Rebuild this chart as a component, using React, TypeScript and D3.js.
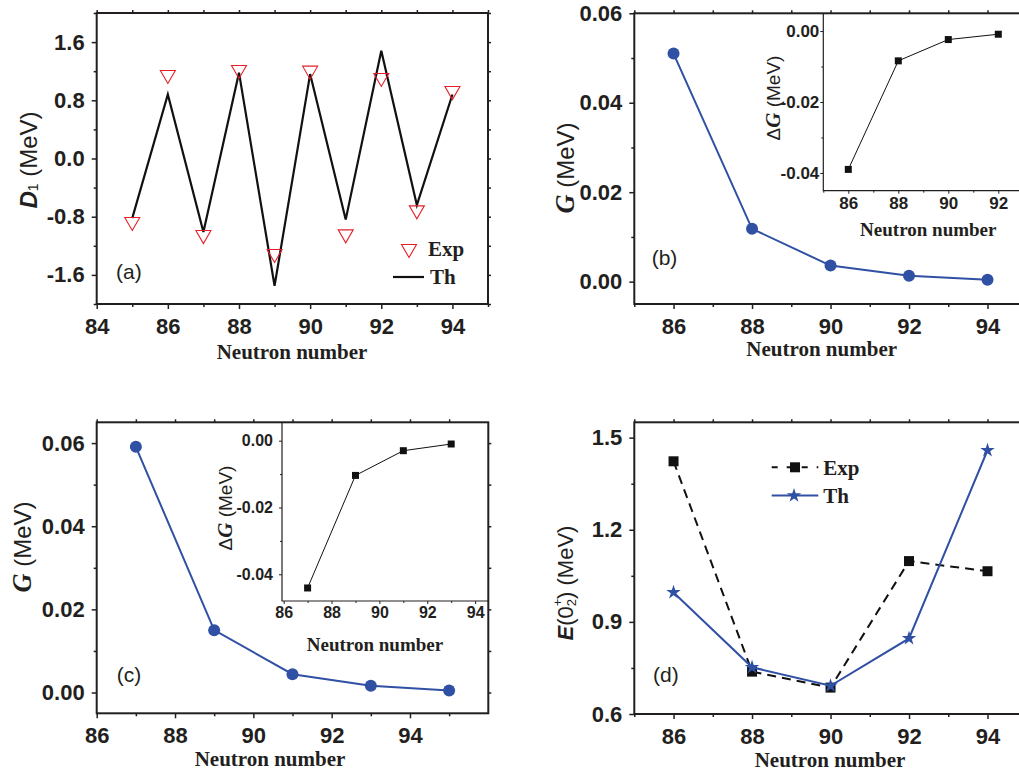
import React, { useEffect, useRef } from "react";
import * as d3 from "d3";

// ---------- data ----------
const nA = [85, 86, 87, 88, 89, 90, 91, 92, 93, 94];
const expA = [-0.9, 1.12, -1.08, 1.19, -1.34, 1.18, -1.07, 1.08, -0.74, 0.9];
const thA = [-0.82, 0.88, -1.01, 1.18, -1.75, 1.16, -0.84, 1.48, -0.64, 0.88];

const nB = [86, 88, 90, 92, 94];
const gB = [0.051, 0.0118, 0.0036, 0.0013, 0.0004];
const nBInset = [86, 88, 90, 92];
const dgB = [-0.039, -0.0084, -0.0024, -0.0009];

const nC = [87, 89, 91, 93, 95];
const gC = [0.0591, 0.015, 0.0044, 0.0016, 0.0005];
const nCInset = [87, 89, 91, 93];
const dgC = [-0.0441, -0.0104, -0.003, -0.001];

const nD = [86, 88, 90, 92, 94];
const expD = [1.423, 0.738, 0.686, 1.098, 1.065];
const thD = [0.996, 0.752, 0.692, 0.846, 1.459];

// ticks
const xMajorA = [84, 86, 88, 90, 92, 94];
const xMinorA = [85, 87, 89, 91, 93, 95];
const yMajorA = [-1.6, -0.8, 0, 0.8, 1.6];
const yMinorA = [-2.0, -1.2, -0.4, 0.4, 1.2, 2.0];
const xMajorBD = [86, 88, 90, 92, 94];
const xMinorBD = [85, 87, 89, 91, 93, 95];
const yMajorG = [0, 0.02, 0.04, 0.06];
const yMinorG = [0.01, 0.03, 0.05];
const xMajorC = [86, 88, 90, 92, 94];
const xMinorC = [87, 89, 91, 93, 95];
const xMajorBIn = [86, 88, 90, 92];
const xMinorBIn = [85, 87, 89, 91];
const xMajorCIn = [86, 88, 90, 92, 94];
const xMinorCIn = [87, 89, 91, 93];
const yMajorDG = [-0.04, -0.02, 0];
const yMinorDG = [-0.03, -0.01];
const yMajorD = [0.6, 0.9, 1.2, 1.5];
const yMinorD = [0.75, 1.05, 1.35];

const SANS = "'Liberation Sans', Arial, sans-serif";
const SERIF = "'Liberation Serif', 'Times New Roman', serif";
const BLUE = "#3050a4";
const RED = "#e5202a";
const INK = "#231f20";

const fmt = (p: number) => (v: number) => d3.format(`.${p}f`)(v).replace("−", "-");

type Opt = {
  xMajor: number[]; xMinor: number[]; yMajor: number[]; yMinor: number[];
  xFmt: (v: number) => string; yFmt: (v: number) => string;
  fs: number; frameW: number; major: number; minor: number;
  padX: number; padY: number; mirror: boolean; full: boolean; tickW: number;
};

function axes(g: any, x: any, y: any, o: Opt) {
  const [xl, xr] = x.range();
  const [yb, yt] = y.range();
  const style = (sel: any) => {
    sel.select(".domain").remove();
    sel.attr("font-family", SANS).attr("font-size", o.fs).attr("font-weight", "bold");
    sel.selectAll("line").attr("stroke", INK).attr("stroke-width", o.tickW);
    sel.selectAll("text").attr("fill", INK);
  };
  const none = () => "";
  g.append("g").attr("transform", `translate(0,${yb})`)
    .call(d3.axisBottom(x).tickValues(o.xMajor).tickFormat(o.xFmt).tickSize(o.major).tickPadding(o.padX)).call(style);
  g.append("g").attr("transform", `translate(0,${yb})`)
    .call(d3.axisBottom(x).tickValues(o.xMinor).tickFormat(none).tickSize(o.minor)).call(style);
  g.append("g").attr("transform", `translate(${xl},0)`)
    .call(d3.axisLeft(y).tickValues(o.yMajor).tickFormat(o.yFmt).tickSize(o.major).tickPadding(o.padY)).call(style);
  g.append("g").attr("transform", `translate(${xl},0)`)
    .call(d3.axisLeft(y).tickValues(o.yMinor).tickFormat(none).tickSize(o.minor)).call(style);
  if (o.mirror) {
    g.append("g").attr("transform", `translate(0,${yt})`)
      .call(d3.axisTop(x).tickValues(o.xMajor.concat(o.xMinor)).tickFormat(none).tickSize(3)).call(style);
    g.append("g").attr("transform", `translate(${xr},0)`)
      .call(d3.axisRight(y).tickValues(o.yMajor.concat(o.yMinor)).tickFormat(none).tickSize(3)).call(style);
  }
  if (o.full) {
    g.append("rect").attr("x", xl).attr("y", yt).attr("width", xr - xl).attr("height", yb - yt)
      .attr("fill", "none").attr("stroke", INK).attr("stroke-width", o.frameW);
  } else {
    g.append("path").attr("d", `M${xl},${yt}V${yb}H${xr}`)
      .attr("fill", "none").attr("stroke", INK).attr("stroke-width", o.frameW);
  }
}

const mainOpt = (o: Partial<Opt>): Opt => ({
  xMajor: [], xMinor: [], yMajor: [], yMinor: [],
  xFmt: fmt(0), yFmt: fmt(2), fs: 22, frameW: 2, major: 5, minor: 3,
  padX: 9, padY: 7, mirror: true, full: true, tickW: 1.5, ...o,
});
const insetOpt = (o: Partial<Opt>): Opt => ({
  xMajor: [], xMinor: [], yMajor: [], yMinor: [],
  xFmt: fmt(0), yFmt: fmt(2), fs: 17, frameW: 1.2, major: 3, minor: 2,
  padX: 3, padY: 1, mirror: false, full: false, tickW: 1, ...o,
});

function xTitle(svg: any, cx: number, by: number, fs: number) {
  svg.append("text").attr("x", cx).attr("y", by).attr("text-anchor", "middle")
    .attr("font-family", SERIF).attr("font-weight", "bold").attr("font-size", fs).attr("fill", INK)
    .text("Neutron number");
}

function gTitle(svg: any, cx: number, cy: number, fs: number, delta: boolean) {
  const t = svg.append("text").attr("transform", `translate(${cx},${cy}) rotate(-90)`)
    .attr("text-anchor", "middle").attr("dominant-baseline", "central")
    .attr("font-family", SANS).attr("font-size", fs).attr("fill", INK);
  if (delta) t.append("tspan").text("Δ");
  t.append("tspan").attr("font-family", SERIF).attr("font-weight", "bold").attr("font-style", "italic")
    .attr("font-size", fs * 1.1).text("G");
  t.append("tspan").text(" (MeV)");
}

function panelLabel(svg: any, x: number, y: number, s: string) {
  svg.append("text").attr("x", x).attr("y", y).attr("font-family", SANS).attr("font-size", 21)
    .attr("fill", INK).text(s);
}

export default function App() {
  const ref = useRef<SVGSVGElement>(null);
  useEffect(() => {
    const svg = d3.select(ref.current);
    svg.selectAll("*").remove();

    // ---------- (a) ----------
    {
      const x = d3.scaleLinear().domain([84, 95]).range([96.7, 488]);
      const y = d3.scaleLinear().domain([-2, 2]).range([304, 13]);
      const g = svg.append("g");
      axes(g, x, y, mainOpt({ xMajor: xMajorA, xMinor: xMinorA, yMajor: yMajorA, yMinor: yMinorA, yFmt: fmt(1) }));
      const line = d3.line<number>().x((_, i) => x(nA[i])).y((d) => y(d));
      g.append("path").attr("d", line(thA)).attr("fill", "none").attr("stroke", "#111").attr("stroke-width", 2.2);
      const tri = (cx: number, cy: number) => `M${cx - 7.5},${cy - 6.5}L${cx + 7.5},${cy - 6.5}L${cx},${cy + 6.5}Z`;
      g.selectAll(".tri").data(expA).enter().append("path")
        .attr("d", (d: number, i: number) => tri(x(nA[i]), y(d)))
        .attr("fill", "none").attr("stroke", RED).attr("stroke-width", 1.1);
      // legend
      g.append("path").attr("d", tri(409, 251)).attr("fill", "none").attr("stroke", RED).attr("stroke-width", 1.1);
      g.append("text").attr("x", 428).attr("y", 256).attr("font-family", SERIF).attr("font-weight", "bold")
        .attr("font-size", 21).attr("fill", INK).text("Exp");
      g.append("line").attr("x1", 393).attr("x2", 424).attr("y1", 277).attr("y2", 277).attr("stroke", "#111").attr("stroke-width", 2.2);
      g.append("text").attr("x", 430).attr("y", 284).attr("font-family", SERIF).attr("font-weight", "bold")
        .attr("font-size", 21).attr("fill", INK).text("Th");
      panelLabel(svg, 116, 279, "(a)");
      xTitle(svg, 292, 359, 21);
      const t = svg.append("text").attr("transform", `translate(28,160) rotate(-90)`)
        .attr("text-anchor", "middle").attr("dominant-baseline", "central")
        .attr("font-family", SANS).attr("font-size", 24).attr("fill", INK);
      t.append("tspan").attr("font-weight", "bold").attr("font-style", "italic").text("D");
      t.append("tspan").attr("font-size", 14).attr("dy", 5).text("1");
      t.append("tspan").attr("dy", -5).text(" (MeV)");
    }

    // ---------- (b) ----------
    {
      const x = d3.scaleLinear().domain([85, 96]).range([634.3, 1066]);
      const y = d3.scaleLinear().domain([-0.005, 0.06]).range([304, 13.3]);
      const g = svg.append("g");
      axes(g, x, y, mainOpt({ xMajor: xMajorBD, xMinor: xMinorBD, yMajor: yMajorG, yMinor: yMinorG }));
      const line = d3.line<number>().x((_, i) => x(nB[i])).y((d) => y(d));
      g.append("path").attr("d", line(gB)).attr("fill", "none").attr("stroke", BLUE).attr("stroke-width", 2);
      g.selectAll(".c").data(gB).enter().append("circle")
        .attr("cx", (_: number, i: number) => x(nB[i])).attr("cy", (d: number) => y(d)).attr("r", 6).attr("fill", BLUE);
      panelLabel(svg, 651.7, 265, "(b)");
      xTitle(svg, 821.7, 356, 21);
      gTitle(svg, 565, 168, 24, false);

      const xi = d3.scaleLinear().domain([85, 93]).range([823.3, 1023.3]);
      const yi = d3.scaleLinear().domain([-0.045, 0.005]).range([190.7, 13.3]);
      const gi = svg.append("g");
      axes(gi, xi, yi, insetOpt({ xMajor: xMajorBIn, xMinor: xMinorBIn, yMajor: yMajorDG, yMinor: yMinorDG }));
      const li = d3.line<number>().x((_, i) => xi(nBInset[i])).y((d) => yi(d));
      gi.append("path").attr("d", li(dgB)).attr("fill", "none").attr("stroke", "#111").attr("stroke-width", 1);
      gi.selectAll(".s").data(dgB).enter().append("path")
        .attr("transform", (d: number, i: number) => `translate(${xi(nBInset[i])},${yi(d)})`)
        .attr("d", d3.symbol(d3.symbolSquare, 49)()).attr("fill", "#111");
      xTitle(svg, 928.3, 236, 19);
      gTitle(svg, 773, 98, 19, true);
    }

    // ---------- (c) ----------
    {
      const x = d3.scaleLinear().domain([86, 96]).range([96.7, 488.3]);
      const y = d3.scaleLinear().domain([-0.005, 0.065]).range([713.3, 422.3]);
      const g = svg.append("g");
      axes(g, x, y, mainOpt({ xMajor: xMajorC, xMinor: xMinorC, yMajor: yMajorG, yMinor: yMinorG }));
      const line = d3.line<number>().x((_, i) => x(nC[i])).y((d) => y(d));
      g.append("path").attr("d", line(gC)).attr("fill", "none").attr("stroke", BLUE).attr("stroke-width", 2);
      g.selectAll(".c").data(gC).enter().append("circle")
        .attr("cx", (_: number, i: number) => x(nC[i])).attr("cy", (d: number) => y(d)).attr("r", 6).attr("fill", BLUE);
      panelLabel(svg, 116.7, 682, "(c)");
      xTitle(svg, 270, 766, 21);
      gTitle(svg, 21.7, 547, 24, false);

      const xi = d3.scaleLinear().domain([85.93, 94.55]).range([282, 488.3]);
      const yi = d3.scaleLinear().domain([-0.048, 0.0055]).range([601, 422.3]);
      const gi = svg.append("g");
      axes(gi, xi, yi, insetOpt({ xMajor: xMajorCIn, xMinor: xMinorCIn, yMajor: yMajorDG, yMinor: yMinorDG, padY: 6, fs: 16 }));
      const li = d3.line<number>().x((_, i) => xi(nCInset[i])).y((d) => yi(d));
      gi.append("path").attr("d", li(dgC)).attr("fill", "none").attr("stroke", "#111").attr("stroke-width", 1);
      gi.selectAll(".s").data(dgC).enter().append("path")
        .attr("transform", (d: number, i: number) => `translate(${xi(nCInset[i])},${yi(d)})`)
        .attr("d", d3.symbol(d3.symbolSquare, 49)()).attr("fill", "#111");
      xTitle(svg, 375, 651, 19);
      gTitle(svg, 225, 508, 19, true);
    }

    // ---------- (d) ----------
    {
      const x = d3.scaleLinear().domain([85, 96]).range([634.3, 1066]);
      const y = d3.scaleLinear().domain([0.6, 1.55]).range([714, 422.3]);
      const g = svg.append("g");
      axes(g, x, y, mainOpt({ xMajor: xMajorBD, xMinor: xMinorBD, yMajor: yMajorD, yMinor: yMinorD, yFmt: fmt(1) }));
      const le = d3.line<number>().x((_, i) => x(nD[i])).y((d) => y(d));
      g.append("path").attr("d", le(expD)).attr("fill", "none").attr("stroke", "#111")
        .attr("stroke-width", 2).attr("stroke-dasharray", "9,6");
      g.selectAll(".s").data(expD).enter().append("path")
        .attr("transform", (d: number, i: number) => `translate(${x(nD[i])},${y(d)})`)
        .attr("d", d3.symbol(d3.symbolSquare, 100)()).attr("fill", "#111");
      g.append("path").attr("d", le(thD)).attr("fill", "none").attr("stroke", BLUE).attr("stroke-width", 2);
      g.selectAll(".st").data(thD).enter().append("path")
        .attr("transform", (d: number, i: number) => `translate(${x(nD[i])},${y(d)})`)
        .attr("d", d3.symbol(d3.symbolStar, 65)()).attr("fill", BLUE);
      // legend
      g.append("line").attr("x1", 771.7).attr("x2", 818.3).attr("y1", 467.3).attr("y2", 467.3)
        .attr("stroke", "#111").attr("stroke-width", 2).attr("stroke-dasharray", "6,9");
      g.append("path").attr("transform", "translate(795,467.3)").attr("d", d3.symbol(d3.symbolSquare, 100)()).attr("fill", "#111");
      g.append("text").attr("x", 823.3).attr("y", 475).attr("font-family", SERIF).attr("font-weight", "bold")
        .attr("font-size", 21).attr("fill", INK).text("Exp");
      g.append("line").attr("x1", 771.7).attr("x2", 818.3).attr("y1", 495.5).attr("y2", 495.5)
        .attr("stroke", BLUE).attr("stroke-width", 2);
      g.append("path").attr("transform", "translate(794,495.5)").attr("d", d3.symbol(d3.symbolStar, 65)()).attr("fill", BLUE);
      g.append("text").attr("x", 823.3).attr("y", 503).attr("font-family", SERIF).attr("font-weight", "bold")
        .attr("font-size", 21).attr("fill", INK).text("Th");
      panelLabel(svg, 653, 682, "(d)");
      xTitle(svg, 830, 767, 21);
      const t = svg.append("text").attr("transform", `translate(565,583) rotate(-90)`)
        .attr("text-anchor", "middle").attr("dominant-baseline", "central")
        .attr("font-family", SANS).attr("font-size", 22).attr("fill", INK);
      t.append("tspan").attr("font-weight", "bold").attr("font-style", "italic").text("E");
      t.append("tspan").text("(0");
      t.append("tspan").attr("font-size", 13).attr("dy", -8).text("+");
      t.append("tspan").attr("font-size", 13).attr("dx", -7.6).attr("dy", 14).text("2");
      t.append("tspan").attr("dy", -6).text(") (MeV)");
    }
  }, []);

  return (
    <svg ref={ref} width={1019} height={774}
      style={{ position: "absolute", left: 0, top: 0, background: "#fff" }} />
  );
}
